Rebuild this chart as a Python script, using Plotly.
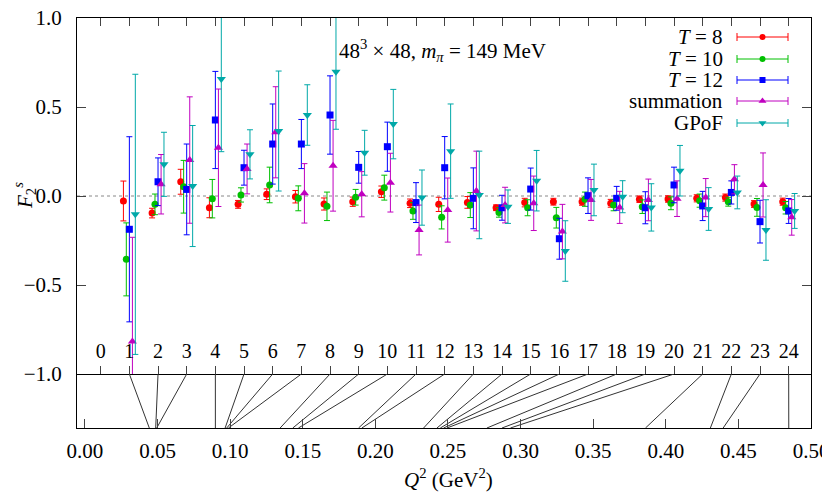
import plotly.graph_objects as go

# ---------------- data ----------------
index_labels = [str(i) for i in range(25)]
index = list(range(1, 25))
q2 = [0.0443, 0.0487, 0.0494, 0.0898, 0.0965, 0.0976, 0.0988, 0.1344,
      0.1431, 0.1470, 0.1884, 0.1907, 0.2332, 0.2424, 0.2447, 0.2470,
      0.2493, 0.2768, 0.2872, 0.2930, 0.3860, 0.4307, 0.4395, 0.4847]

t8 = [-0.028, -0.096, 0.080, -0.066, -0.047, 0.010, -0.004, -0.045, -0.032, 0.024, -0.041, -0.047,
      -0.036, -0.066, -0.037, -0.032, -0.032, -0.041, -0.018, -0.017, -0.013, -0.009, -0.045, -0.032]
t8_err = [0.112, 0.027, 0.070, 0.056, 0.022, 0.030, 0.035, 0.034, 0.026, 0.032, 0.024, 0.040,
          0.033, 0.016, 0.024, 0.019, 0.020, 0.022, 0.018, 0.018, 0.020, 0.020, 0.019, 0.020]

t10 = [-0.356, -0.047, 0.052, -0.015, 0.006, 0.062, -0.013, -0.058, -0.007, 0.047, -0.084, -0.120,
       -0.051, -0.092, -0.066, -0.122, -0.018, -0.051, -0.060, -0.041, -0.026, -0.032, -0.064, -0.066]
t10_err = [0.205, 0.058, 0.148, 0.108, 0.040, 0.100, 0.070, 0.080, 0.044, 0.070, 0.047, 0.065,
           0.070, 0.027, 0.045, 0.058, 0.040, 0.032, 0.038, 0.036, 0.037, 0.025, 0.050, 0.035]

t12 = [-0.187, 0.080, 0.037, 0.427, 0.159, 0.292, 0.292, 0.455, 0.161, 0.277, -0.037, 0.159,
       -0.013, -0.066, 0.039, -0.240, 0.002, -0.013, -0.066, 0.062, -0.056, 0.020, -0.144, -0.084]
t12_err = [0.520, 0.134, 0.255, 0.273, 0.098, 0.225, 0.138, 0.220, 0.089, 0.138, 0.112, 0.175,
           0.171, 0.070, 0.118, 0.115, 0.100, 0.067, 0.090, 0.100, 0.082, 0.065, 0.120, 0.070]

summ = [-0.818, 0.066, 0.202, 0.271, 0.152, 0.358, 0.015, 0.170, 0.010, 0.075, -0.191, -0.079,
        0.028, -0.051, -0.041, -0.200, -0.022, -0.064, -0.022, -0.015, -0.009, 0.094, 0.062, -0.120]
summ_err = [0.586, 0.167, 0.355, 0.330, 0.140, 0.256, 0.167, 0.255, 0.127, 0.165, 0.140, 0.180,
            0.224, 0.100, 0.153, 0.153, 0.115, 0.090, 0.117, 0.100, 0.107, 0.082, 0.180, 0.100]

gpof = [-0.103, 0.178, 0.056, 0.657, 0.234, 0.365, 0.455, 0.698, 0.243, 0.404, -0.009, 0.252,
        0.006, -0.060, 0.086, -0.309, 0.034, -0.004, -0.064, 0.142, -0.073, 0.020, -0.191, -0.084]
gpof_err = [0.787, 0.180, 0.340, 0.408, 0.138, 0.337, 0.170, 0.323, 0.126, 0.195, 0.155, 0.265,
            0.246, 0.094, 0.170, 0.170, 0.145, 0.090, 0.133, 0.142, 0.120, 0.092, 0.170, 0.098]

series_names = ["<i>T</i> = 8", "<i>T</i> = 10", "<i>T</i> = 12", "summation", "GPoF"]
y_ticks = [-1.0, -0.5, 0.0, 0.5, 1.0]
y_ticktext = ["\u22121.0", "\u22120.5", "0.0", "0.5", "1.0"]

# ---------------- styles / layout helpers ----------------
SERIF = "Liberation Serif, 'Times New Roman', serif"
colors = ["#ff0000", "#00c000", "#0000ff", "#c000c0", "#00a8a8"]
symbols = ["circle", "circle", "square", "triangle-up", "triangle-down"]
msizes = [7, 7, 7, 8, 8]
offsets = [-0.0041, -0.0021, 0.0, 0.0021, 0.0041]   # series shift within an index slot
IDX0, IDX_STEP = 0.01082, 0.019742                   # index -> axis position
XR = [-0.0055, 0.5]
SPLIT = 0.1317
# page body has an 8px margin; the figure is sized/offset to compensate
W, H = 822, 490
ML, MR, MT, MB = 69, 19, 10, 70


def idx_pos(i):
    return IDX0 + i * IDX_STEP


fig = go.Figure()

all_vals = [t8, t10, t12, summ, gpof]
all_errs = [t8_err, t10_err, t12_err, summ_err, gpof_err]

for k in range(5):
    fig.add_trace(go.Scatter(
        x=[idx_pos(i) + offsets[k] for i in index], y=all_vals[k],
        mode="markers", xaxis="x", yaxis="y",
        marker=dict(color=colors[k], symbol=symbols[k], size=msizes[k], line=dict(width=0)),
        error_y=dict(type="data", array=all_errs[k], visible=True,
                     color=colors[k], thickness=1, width=3),
        showlegend=False, hoverinfo="skip"))

# index labels
fig.add_trace(go.Scatter(
    x=[idx_pos(i) for i in range(25)], y=[-0.88] * 25, mode="text",
    text=index_labels, textfont=dict(family=SERIF, size=20, color="black"),
    xaxis="x", yaxis="y", showlegend=False, cliponaxis=False, hoverinfo="skip"))

# connecting lines index -> Q^2
lx, ly = [], []
for i, q in zip(index, q2):
    lx += [idx_pos(i), q, None]
    ly += [-1.0, -1.3, None]
fig.add_trace(go.Scatter(x=lx, y=ly, mode="lines", xaxis="x2", yaxis="y2",
                         line=dict(color="#333333", width=1), showlegend=False,
                         hoverinfo="skip"))

# manual legend (pixel-like coordinate system on overlay axes)
leg_rows = [37, 59, 80, 101, 123]
for k in range(5):
    fig.add_trace(go.Scatter(
        x=[762.5], y=[leg_rows[k]], mode="markers", xaxis="x3", yaxis="y3",
        marker=dict(color=colors[k], symbol=symbols[k], size=msizes[k] - 1),
        error_x=dict(type="constant", value=25.5, color=colors[k], thickness=1, width=4),
        showlegend=False, hoverinfo="skip"))
    fig.add_annotation(x=725, y=leg_rows[k], xref="x3", yref="y3", text=series_names[k],
                       showarrow=False, xanchor="right", yanchor="middle",
                       font=dict(family=SERIF, size=21, color="black"))

axis_common = dict(showgrid=False, zeroline=False, showline=True, linecolor="black",
                   linewidth=1, automargin=False)
tickfont = dict(family=SERIF, size=21, color="black")

fig.update_layout(
    template="none",
    width=W, height=H,
    margin=dict(l=ML, r=MR, t=MT, b=MB, autoexpand=False),
    paper_bgcolor="white", plot_bgcolor="rgba(0,0,0,0)",
    font=dict(family=SERIF, size=20, color="black"),
    xaxis=dict(domain=[0, 1], range=XR, anchor="y",
               tickvals=[idx_pos(i) for i in range(25)], ticks="inside", ticklen=8,
               tickcolor="#444444", showticklabels=False, mirror="ticks", **axis_common),
    yaxis=dict(domain=[SPLIT, 1], range=[-1, 1], anchor="x",
               tickvals=y_ticks, ticktext=y_ticktext, ticks="inside", ticklen=9,
               tickcolor="#444444", mirror="ticks", tickfont=tickfont,
               ticklabelstandoff=10, ticklabeloverflow="allow", **axis_common),
    xaxis2=dict(domain=[0, 1], range=XR, anchor="y2", tick0=0, dtick=0.05,
                tickformat=".2f", ticks="inside", ticklen=9, tickcolor="#444444",
                tickfont=tickfont, ticklabelstandoff=4, ticklabeloverflow="allow",
                **axis_common),
    yaxis2=dict(domain=[0, SPLIT], range=[-1.3, -1.0], anchor="x2",
                showticklabels=False, ticks="", mirror=True, **axis_common),
    xaxis3=dict(overlaying="x", range=[77, 811], anchor="y3", visible=False,
                automargin=False),
    yaxis3=dict(overlaying="y", range=[374, 18], anchor="x3", visible=False,
                automargin=False),
    shapes=[dict(type="line", xref="x domain", x0=0, x1=1, yref="y", y0=0, y1=0,
                 line=dict(color="#888888", width=1, dash="dot"), layer="below")],
)

fig.add_annotation(x=442, y=50, xref="x3", yref="y3",
                   text="48<sup>3</sup> \u00d7 48, <i>m</i><sub><i>\u03c0</i></sub> = 149 MeV",
                   showarrow=False, xanchor="center", yanchor="middle",
                   font=dict(family=SERIF, size=21, color="black"))
fig.add_annotation(x=(448 - 77) / 734, y=(428 - 478) / 410, xref="paper", yref="paper",
                   text="<i>Q</i><sup>2</sup> (GeV<sup>2</sup>)", showarrow=False,
                   xanchor="center", yanchor="middle",
                   font=dict(family=SERIF, size=21, color="black"))
fig.add_annotation(x=(24 - 77) / 734, y=(428 - 196) / 410, xref="paper", yref="paper",
                   text="<i>F</i><sub>2</sub><sup><i>s</i></sup>", showarrow=False,
                   xanchor="center", yanchor="middle",
                   textangle=-90, font=dict(family=SERIF, size=21, color="black"))

fig.write_html("out.html")
